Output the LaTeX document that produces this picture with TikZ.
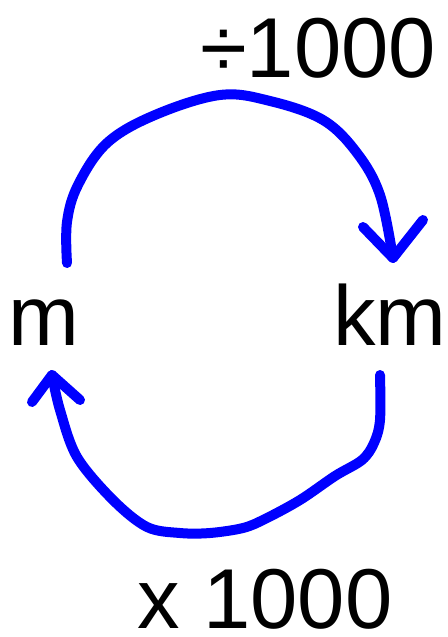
\documentclass[tikz,border=0pt]{standalone}
\usepackage{fontspec}
\setmainfont{Liberation Sans}
\begin{document}
\begin{tikzpicture}[x=1pt,y=-1pt,
  lbl/.style={inner sep=0pt, anchor=base, font=\fontsize{85}{85}\selectfont, text=black},
  arc/.style={draw={rgb,255:red,0;green,0;blue,255}, line width=10pt, line cap=round, line join=round}]
\useasboundingbox (0,0) rectangle (447,637);
\node[lbl] (div) at (318,77) {÷1000};
\node[lbl] (mul) at (265,628) {x 1000};
\node[lbl] (m) at (44,345) {m};
\node[lbl] (km) at (390,345) {km};
\coordinate (mstart) at (67,263);
\coordinate (ktip) at (393,258);
\coordinate (kstart) at (380,375);
\coordinate (mtip) at (52,375);
% top arc: m -> km
\draw[arc] plot[smooth, tension=0.6] coordinates {(mstart) (67,222) (78,185) (107,143) (155,115) (220,95) (270,101) (323,120) (357,153) (380,195) (ktip)};
\draw[arc] (363,227) -- (ktip) -- (423,220);
% bottom arc: km -> m
\draw[arc] plot[smooth, tension=0.55] coordinates {(kstart) (380,420) (374,443) (362,460) (335,476) (300,500) (265,519) (243,528) (210,533) (180,533) (147,527) (113,500) (77,457) (60,410) (mtip)};
\draw[arc] (32,402) -- (mtip) -- (80,400);
\end{tikzpicture}
\end{document}
